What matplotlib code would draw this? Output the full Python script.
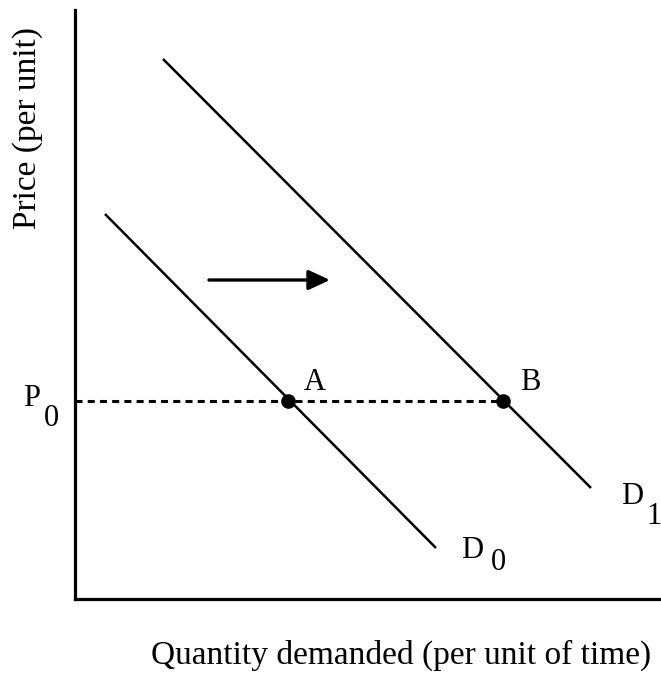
import matplotlib
matplotlib.use("Agg")
import matplotlib.pyplot as plt

# demand curves (quantity, price) end points, arbitrary units
d0_q = [30, 361]
d0_p = [385, 51]
d1_q = [88, 516]
d1_p = [540, 111]

p0 = 198
point_q = [213, 428]
point_labels = ["A", "B"]

shift_q = [134, 255]
shift_p = 319

plt.rcParams["font.family"] = ["Liberation Serif", "DejaVu Serif"]
fs = 22

fig = plt.figure(figsize=(6.61, 6.75), dpi=100)
ax = fig.add_axes([75 / 661, 76 / 675, 586 / 661, 589 / 675])
ax.set_xlim(0, 586)
ax.set_ylim(0, 589)

ax.plot(d0_q, d0_p, color="black", lw=1.8, solid_capstyle="butt")
ax.plot(d1_q, d1_p, color="black", lw=1.8, solid_capstyle="butt")

# price line at P0
ax.plot([0, point_q[1]], [p0, p0], color="black", lw=2.2,
        linestyle=(0, (2.3, 1.7)))
ax.plot(point_q, [p0, p0], "o", color="black", markersize=9.5)

for q, lab in zip(point_q, point_labels):
    ax.text(q + 27, p0 + 19, lab, fontsize=fs, ha="center", va="center")

# shift arrow
ax.annotate("", xy=(shift_q[1], shift_p), xytext=(shift_q[0], shift_p),
            arrowprops=dict(arrowstyle="-|>,head_length=1.3,head_width=0.6",
                            color="black", lw=2.4, shrinkA=0, shrinkB=0))

# curve labels with subscripts
ax.text(397, 48, "D", fontsize=fs, ha="center", va="center")
ax.text(423, 36, "0", fontsize=fs, ha="center", va="center")
ax.text(557, 103, "D", fontsize=fs, ha="center", va="center")
ax.text(587, 82, "1", fontsize=fs, ha="right", va="center", clip_on=False)

ax.text(-43, 200, "P", fontsize=fs, ha="center", va="center", clip_on=False)
ax.text(-24, 181, "0", fontsize=fs, ha="center", va="center", clip_on=False)

ax.set_xticks([])
ax.set_yticks([])
for side in ["top", "right"]:
    ax.spines[side].set_visible(False)
for side in ["left", "bottom"]:
    ax.spines[side].set_linewidth(2.3)

fig.text(401 / 661, 1 - 655 / 675, "Quantity demanded (per unit of time)",
         fontsize=24, ha="center", va="center")
fig.text(28 / 661, 1 - 128 / 675, "Price (per unit)", fontsize=24,
         rotation=90, ha="center", va="center")

fig.savefig("out.png", dpi=100)
